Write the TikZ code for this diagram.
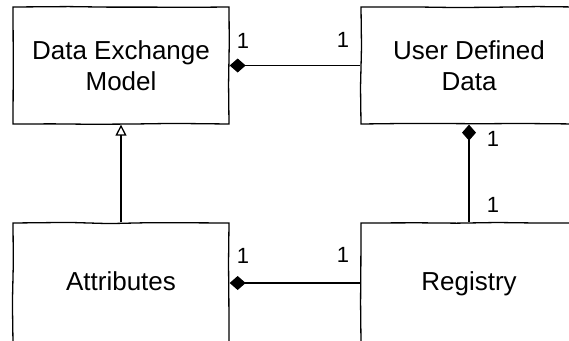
\documentclass[tikz,border=0pt]{standalone}
\usepackage{fontspec}
\setmainfont{Liberation Sans}
\usetikzlibrary{arrows.meta,decorations.pathmorphing}
\begin{document}
\begin{tikzpicture}[x=1pt,y=-1pt,
  umlbox/.style={draw, line width=1.3pt, minimum width=216pt, minimum height=117pt,
    inner sep=0pt, align=center, font=\fontsize{26}{31}\selectfont,
    decorate, decoration={random steps, segment length=40pt, amplitude=0.6pt}},
  oneline/.style={minimum height=120pt, text height=19pt, text depth=5pt},
  conn/.style={line width=1.3pt},
  mult/.style={font=\fontsize{22}{26}\selectfont, inner sep=0pt}
]
\pgfmathsetseed{7}
\useasboundingbox (0,0) rectangle (569,340);
\clip (0,0) rectangle (569,340);
\node[umlbox] (dem) at (121,65.5) {Data Exchange\\Model};
\node[umlbox] (udd) at (469,65.5) {User Defined\\Data};
\node[umlbox, oneline] (attr) at (121,283) {Attributes};
\node[umlbox, oneline] (reg) at (469,283) {Registry};
\draw[conn, {Diamond[length=16pt,width=14pt]}-] (dem.east) -- (udd.west);
\draw[conn, {Diamond[length=16pt,width=14pt]}-] (attr.east) -- (reg.west);
\draw[conn, {Diamond[length=16pt,width=14pt]}-] (udd.south) -- (reg.north);
\draw[conn, -{Triangle[open,length=11pt,width=11pt]}] (attr.north) -- (dem.south);
\node[mult] (m1) at (243,41) {1};
\node[mult] (m2) at (343,40) {1};
\node[mult] (m3) at (243,256) {1};
\node[mult] (m4) at (343,255) {1};
\node[mult] (m5) at (493,139) {1};
\node[mult] (m6) at (493,205) {1};
\end{tikzpicture}
\end{document}
